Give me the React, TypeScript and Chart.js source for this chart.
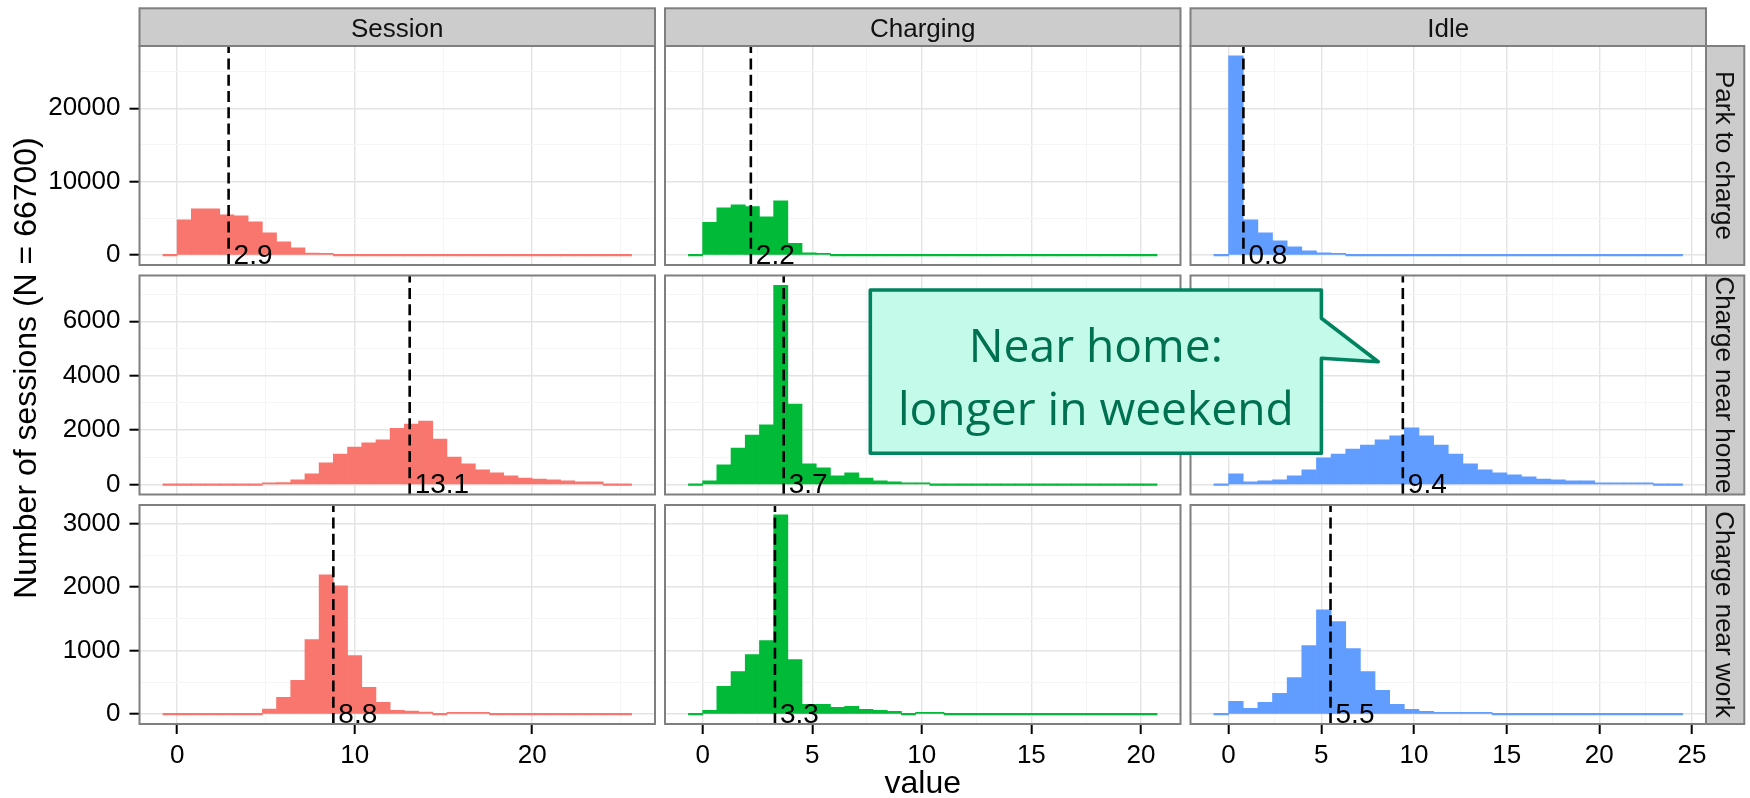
import React, { useEffect, useMemo, useRef } from "react";
import { Chart, registerables } from "chart.js";

Chart.register(...registerables);

// ---------------- data ----------------
const facetCols = ["Session", "Charging", "Idle"];
const facetRows = ["Park to charge", "Charge near home", "Charge near work"];
const seriesColors = ["#F8766D", "#00BA38", "#619CFF"];

// histogram bins (value axis, hours) per column
const binStart = [-0.8, -0.648, -0.79];
const binWidth = [0.8, 0.648, 0.79];

// counts per bin — Session (33 bins)
const sessionPark = [0, 4800, 6300, 6300, 5480, 5340, 4530, 3030, 1800, 990, 270, 180, 0, 0, 0, 0, 0, 0, 0, 0, 0, 0, 0, 0, 0, 0, 0, 0, 0, 0, 0, 0, 0];
const sessionHome = [0, 0, 0, 0, 0, 0, 0, 30, 73, 172, 392, 795, 1120, 1380, 1530, 1640, 2065, 2220, 2330, 1670, 1010, 760, 540, 430, 320, 240, 200, 170, 135, 100, 100, 0, 0];
const sessionWork = [0, 0, 0, 0, 0, 0, 0, 80, 262, 529, 1172, 2193, 2020, 921, 419, 183, 58, 45, 30, 0, 20, 20, 20, 0, 0, 0, 0, 0, 0, 0, 0, 0, 0];
// Charging (33 bins)
const chargingPark = [0, 4440, 6440, 6850, 6610, 5210, 7390, 1580, 310, 180, 0, 0, 0, 0, 0, 0, 0, 0, 0, 0, 0, 0, 0, 0, 0, 0, 0, 0, 0, 0, 0, 0, 0];
const chargingHome = [0, 135, 720, 1340, 1820, 2190, 7315, 2955, 760, 610, 320, 430, 240, 135, 100, 60, 60, 0, 0, 0, 0, 0, 0, 0, 0, 0, 0, 0, 0, 0, 0, 0, 0];
const chargingWork = [0, 58, 435, 670, 937, 1157, 3135, 859, 152, 152, 105, 120, 74, 58, 42, 0, 20, 20, 0, 0, 0, 0, 0, 0, 0, 0, 0, 0, 0, 0, 0, 0, 0];
// Idle (32 bins)
const idlePark = [0, 27116, 4800, 3030, 1950, 1130, 585, 310, 180, 0, 0, 0, 0, 0, 0, 0, 0, 0, 0, 0, 0, 0, 0, 0, 0, 0, 0, 0, 0, 0, 0, 0];
const idleHome = [0, 392, 100, 135, 170, 320, 540, 980, 1120, 1300, 1450, 1640, 1790, 2080, 1790, 1450, 1120, 760, 540, 430, 355, 280, 200, 170, 135, 135, 60, 40, 30, 20, 0, 0];
const idleWork = [0, 199, 90, 183, 325, 576, 1078, 1643, 1455, 1031, 670, 372, 152, 74, 42, 26, 20, 20, 20, 0, 0, 0, 0, 0, 0, 0, 0, 0, 0, 0, 0, 0];

// mean per panel (row: Park, Home, Work; col: Session, Charging, Idle)
const meanPark = [2.9, 2.2, 0.8];
const meanHome = [13.1, 3.7, 9.4];
const meanWork = [8.8, 3.3, 5.5];

const xMajorTicks = [[0, 10, 20], [0, 5, 10, 15, 20], [0, 5, 10, 15, 20, 25]];
const xMinorTicks = [[5, 15, 25], [2.5, 7.5, 12.5, 17.5], [2.5, 7.5, 12.5, 17.5, 22.5]];
const yMajorTicks = [[0, 10000, 20000], [0, 2000, 4000, 6000], [0, 1000, 2000, 3000]];
const yMinorTicks = [[5000, 15000, 25000], [1000, 3000, 5000, 7000], [500, 1500, 2500]];

const yTitle = "Number of sessions (N = 66700)";
const xTitle = "value";
const calloutLines = ["Near home:", "longer in weekend"];

const panelCounts = [
  [sessionPark, chargingPark, idlePark],
  [sessionHome, chargingHome, idleHome],
  [sessionWork, chargingWork, idleWork],
];
const panelMeans = [meanPark, meanHome, meanWork];

// ---------------- layout ----------------
const W = 1750;
const H = 798;
const PANEL_L = [139.5, 665, 1190.5];
const PANEL_W = 515.5;
const PANEL_T = [46, 275.5, 505];
const PANEL_H = 219;
const STRIP_T = 8.3;
const STRIP_R_X = PANEL_L[2] + PANEL_W;
const STRIP_R_W = 38.3;
const Y_AXIS_W = 100;
const X_AXIS_H = 50;
const FONT = '"Liberation Sans", Arial, Helvetica, sans-serif';

function Panel({ r, c }: { r: number; c: number }) {
  const ref = useRef<HTMLCanvasElement | null>(null);
  useEffect(() => {
    const canvas = ref.current;
    if (!canvas) return;
    const counts = panelCounts[r][c];
    const start = binStart[c];
    const w = binWidth[c];
    const points = counts.map((v, k) => ({ x: start + (k + 0.5) * w, y: v }));
    const xLo = start;
    const xHi = start + counts.length * w;
    const xExp = (xHi - xLo) * 0.05;
    const rowMax = Math.max(...panelCounts[r].map((a) => Math.max(...a)));
    const yExp = rowMax * 0.05;
    const showY = c === 0;
    const showX = r === 2;
    const left = PANEL_L[c];
    const right = PANEL_L[c] + PANEL_W;
    const top = PANEL_T[r];
    const bottom = PANEL_T[r] + PANEL_H;
    const xMaj = new Set(xMajorTicks[c]);
    const yMaj = new Set(yMajorTicks[r]);
    const xAll = [...xMajorTicks[c], ...xMinorTicks[c]].sort((a, b) => a - b);
    const yAll = [...yMajorTicks[r], ...yMinorTicks[r]].sort((a, b) => a - b);
    const mean = panelMeans[r][c];
    const label = mean.toFixed(1);

    const meanPlugin = {
      id: "meanLine",
      afterDatasetsDraw(chart: any) {
        const { ctx, chartArea: a, scales } = chart;
        const px = scales.x.getPixelForValue(mean);
        const y0 = scales.y.getPixelForValue(0);
        ctx.save();
        ctx.beginPath();
        ctx.rect(a.left, a.top, a.right - a.left, a.bottom - a.top);
        ctx.clip();
        ctx.strokeStyle = "#000";
        ctx.lineWidth = 2.6;
        ctx.lineCap = "butt";
        ctx.setLineDash([11, 5.3]);
        ctx.beginPath();
        ctx.moveTo(px, a.bottom);
        ctx.lineTo(px, a.top);
        ctx.stroke();
        ctx.setLineDash([]);
        ctx.fillStyle = "#000";
        ctx.font = `28px ${FONT}`;
        ctx.textAlign = "left";
        ctx.textBaseline = "middle";
        ctx.fillText(label, px + 5, y0 + 1);
        ctx.restore();
      },
    };
    const borderPlugin = {
      id: "panelBorder",
      afterDraw(chart: any) {
        const { ctx, chartArea: a } = chart;
        ctx.save();
        ctx.strokeStyle = "#7f7f7f";
        ctx.lineWidth = 2;
        ctx.strokeRect(a.left, a.top, a.right - a.left, a.bottom - a.top);
        ctx.restore();
      },
    };

    const gridColor = (set: Set<number>) => (ctx: any) =>
      ctx.tick && set.has(ctx.tick.value) ? "#e4e4e4" : "#f5f5f5";
    const gridWidth = (set: Set<number>) => (ctx: any) =>
      ctx.tick && set.has(ctx.tick.value) ? 1.4 : 1;
    const tickColor = (set: Set<number>) => (ctx: any) =>
      ctx.tick && set.has(ctx.tick.value) ? "#000" : "rgba(0,0,0,0)";

    const chart = new Chart(canvas, {
      type: "bar",
      data: {
        datasets: [
          {
            data: points as any,
            backgroundColor: seriesColors[c],
            borderWidth: 0,
            barPercentage: 1,
            categoryPercentage: 1,
            minBarLength: 1.6,
          } as any,
        ],
      },
      options: {
        animation: false,
        responsive: false,
        maintainAspectRatio: false,
        devicePixelRatio: 1,
        events: [],
        layout: {
          padding: {
            left: showY ? left - Y_AXIS_W : left,
            right: W - right,
            top: top,
            bottom: showX ? H - bottom - X_AXIS_H : H - bottom,
          },
        },
        plugins: {
          legend: { display: false },
          tooltip: { enabled: false },
          title: { display: false },
        },
        scales: {
          x: {
            type: "linear",
            min: xLo - xExp,
            max: xHi + xExp,
            offset: false,
            afterBuildTicks: (s: any) => {
              s.ticks = xAll.map((v) => ({ value: v }));
            },
            afterFit: (s: any) => {
              s.height = showX ? X_AXIS_H : 0;
            },
            border: { display: false },
            grid: {
              offset: false,
              drawOnChartArea: true,
              drawTicks: showX,
              tickLength: 10,
              tickWidth: 2,
              tickColor: tickColor(xMaj),
              color: gridColor(xMaj),
              lineWidth: gridWidth(xMaj),
            },
            ticks: {
              display: showX,
              autoSkip: false,
              maxRotation: 0,
              minRotation: 0,
              padding: 6,
              color: "#000",
              font: { family: FONT, size: 26 },
              callback: (v: any) => (xMaj.has(Number(v)) ? String(v) : ""),
            },
          } as any,
          y: {
            type: "linear",
            min: -yExp,
            max: rowMax + yExp,
            afterBuildTicks: (s: any) => {
              s.ticks = yAll.map((v) => ({ value: v }));
            },
            afterFit: (s: any) => {
              s.width = showY ? Y_AXIS_W : 0;
            },
            border: { display: false },
            grid: {
              drawOnChartArea: true,
              drawTicks: showY,
              tickLength: 10,
              tickWidth: 2,
              tickColor: tickColor(yMaj),
              color: gridColor(yMaj),
              lineWidth: gridWidth(yMaj),
            },
            ticks: {
              display: showY,
              autoSkip: false,
              padding: 9,
              color: "#000",
              font: { family: FONT, size: 26 },
              callback: (v: any) => (yMaj.has(Number(v)) ? String(v) : ""),
            },
          } as any,
        },
      },
      plugins: [meanPlugin, borderPlugin],
    });
    return () => chart.destroy();
  }, [r, c]);
  return (
    <canvas
      ref={ref}
      width={W}
      height={H}
      style={{ position: "absolute", left: 0, top: 0, width: W, height: H }}
    />
  );
}

export default function App() {
  const calloutFont = useMemo(() => {
    const cv = document.createElement("canvas").getContext("2d");
    if (!cv) return 46;
    cv.font = '100px "Open Sans"';
    const w = cv.measureText(calloutLines[1]).width || 860;
    return (100 * 396) / w;
  }, []);

  const cells: JSX.Element[] = [];
  for (let r = 0; r < 3; r++) for (let c = 0; c < 3; c++) cells.push(<Panel key={`${r}-${c}`} r={r} c={c} />);

  const bx1 = 870.3, by1 = 290, bx2 = 1321.4, by2 = 453.3;
  const calloutPath = `M ${bx1} ${by1} L ${bx2} ${by1} L ${bx2} 318.3 L 1378.2 361.7 L ${bx2} 358.3 L ${bx2} ${by2} L ${bx1} ${by2} Z`;

  return (
    <div
      style={{
        position: "fixed",
        left: 0,
        top: 0,
        width: W,
        height: H,
        background: "#fff",
        overflow: "hidden",
      }}
    >
      {cells}
      <svg
        width={W}
        height={H}
        style={{ position: "absolute", left: 0, top: 0, pointerEvents: "none" }}
      >
        <defs>
          {facetRows.map((_, r) => (
            <clipPath id={`rs${r}`} key={r}>
              <rect x={STRIP_R_X} y={PANEL_T[r]} width={STRIP_R_W} height={PANEL_H} />
            </clipPath>
          ))}
        </defs>
        {facetCols.map((name, c) => (
          <g key={name}>
            <rect
              x={PANEL_L[c]}
              y={STRIP_T}
              width={PANEL_W}
              height={PANEL_T[0] - STRIP_T}
              fill="#cccccc"
              stroke="#7f7f7f"
              strokeWidth={2}
            />
            <text
              x={PANEL_L[c] + PANEL_W / 2}
              y={36.5}
              textAnchor="middle"
              fontFamily={FONT}
              fontSize={26}
              fill="#111"
            >
              {name}
            </text>
          </g>
        ))}
        {facetRows.map((name, r) => (
          <g key={name}>
            <rect
              x={STRIP_R_X}
              y={PANEL_T[r]}
              width={STRIP_R_W}
              height={PANEL_H}
              fill="#cccccc"
              stroke="#7f7f7f"
              strokeWidth={2}
            />
            <g clipPath={`url(#rs${r})`}>
              <text
                transform={`translate(${STRIP_R_X + STRIP_R_W / 2}, ${PANEL_T[r] + PANEL_H / 2}) rotate(90)`}
                y={9.3}
                textAnchor="middle"
                fontFamily={FONT}
                fontSize={26}
                fill="#111"
              >
                {name}
              </text>
            </g>
          </g>
        ))}
        <text
          transform="translate(36, 368) rotate(-90)"
          textAnchor="middle"
          fontFamily={FONT}
          fontSize={32}
          fill="#000"
        >
          {yTitle}
        </text>
        <text
          x={PANEL_L[0] + (PANEL_L[2] + PANEL_W - PANEL_L[0]) / 2}
          y={793}
          textAnchor="middle"
          fontFamily={FONT}
          fontSize={32}
          fill="#000"
        >
          {xTitle}
        </text>
        <path
          d={calloutPath}
          fill="#c3faea"
          stroke="#00835f"
          strokeWidth={3.6}
          strokeLinejoin="round"
        />
        <text
          x={(bx1 + bx2) / 2}
          y={361.7}
          textAnchor="middle"
          fontFamily='"Open Sans", "Noto Sans", sans-serif'
          fontSize={calloutFont}
          fill="#007150"
        >
          {calloutLines[0]}
        </text>
        <text
          x={(bx1 + bx2) / 2}
          y={425}
          textAnchor="middle"
          fontFamily='"Open Sans", "Noto Sans", sans-serif'
          fontSize={calloutFont}
          fill="#007150"
        >
          {calloutLines[1]}
        </text>
      </svg>
    </div>
  );
}
